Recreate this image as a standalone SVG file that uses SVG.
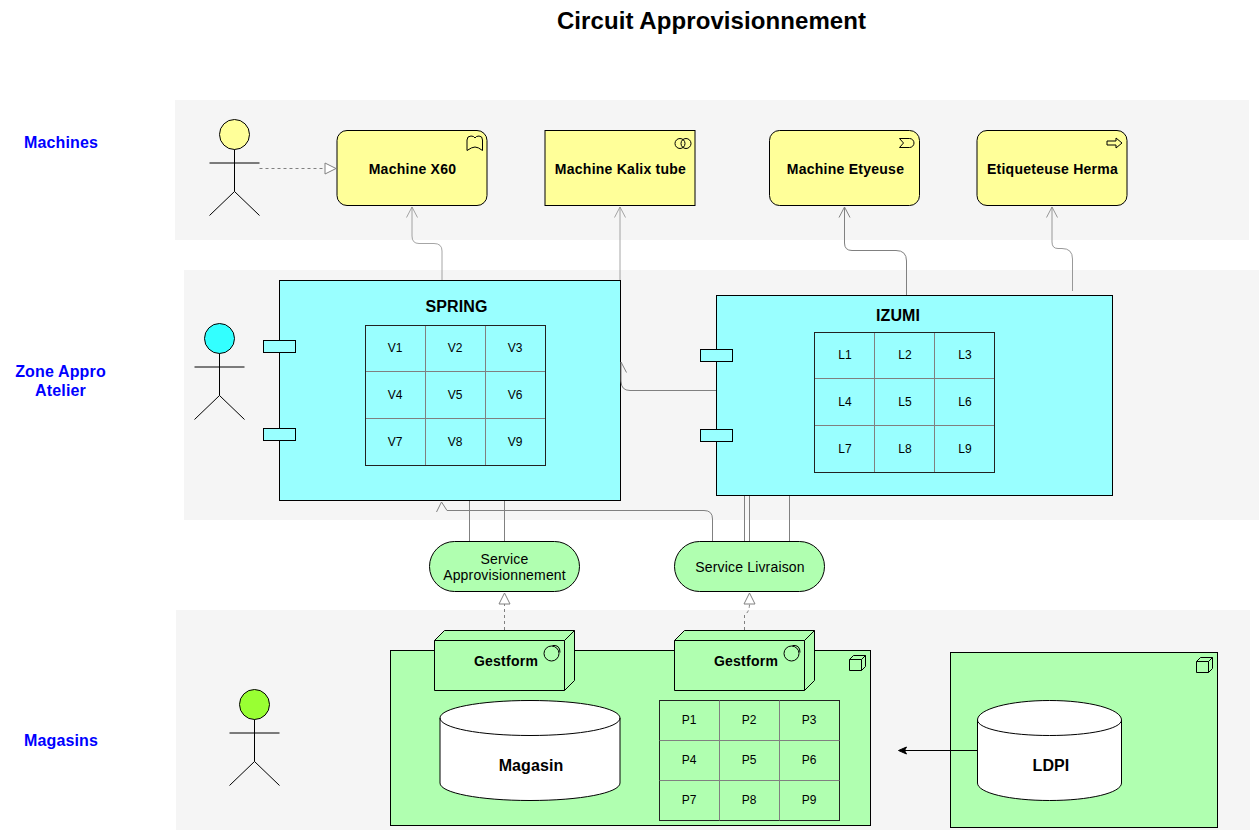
<svg xmlns="http://www.w3.org/2000/svg" width="1260" height="831" viewBox="0 0 1260 831">
<style>
text{font-family:"Liberation Sans",Arial,sans-serif;text-anchor:middle;fill:#000}
.band{fill:#f5f5f5;stroke:none}
.lane{font-size:16px;font-weight:bold;fill:#0000ff;letter-spacing:.15px}
.b{font-size:14px;font-weight:bold;letter-spacing:.25px}
.big{font-size:16px;font-weight:bold;letter-spacing:.1px}
.s{font-size:14px;letter-spacing:.17px}
.c{font-size:12px}
.o{stroke:#000;stroke-width:1;fill:none}
.y{fill:#ffff99;stroke:#000}
.t{fill:#99ffff;stroke:#000}
.g{fill:#b0ffb0;stroke:#000}
.w{fill:#fff;stroke:#000}
.grid{stroke:#808080;fill:none}
.frame{stroke:#222;fill:none}
.i{fill:none;stroke:#000}
#connectors path{fill:none;stroke:#808080;stroke-width:1}
#connectors .d{stroke-dasharray:3 3}
#connectors .h{fill:#fff;stroke:#808080}
</style>
<defs>
<g id="actor" class="o"><path d="M0 15V57M-25 28.500H25M-25 81L0 57L25 81"/></g>
<g id="cube" class="i"><path d="M-10.500 3.500H1.500V14.500H-10.500ZM-10.500 3.500L-6.500 -0.500H5.500V10.500L1.500 14.500M1.500 3.500L5.500 -0.500"/></g>
<g id="grid"><path class="grid" d="M60 0V140M120 0V140M0 46H180M0 93H180"/><rect class="frame" width="180" height="140"/></g>
</defs>
<g id="bands">
<rect class="band" x="175" y="100" width="1074" height="140"/>
<rect class="band" x="184" y="270" width="1075" height="250"/>
<rect class="band" x="176" y="610" width="1074" height="220"/>
</g>
<text x="711.500" y="29" style="font-size:24px;font-weight:bold;letter-spacing:.08px">Circuit Approvisionnement</text>
<text class="lane" x="61" y="148">Machines</text>
<text class="lane" x="60.500" y="377">Zone Appro</text>
<text class="lane" x="60.500" y="396">Atelier</text>
<text class="lane" x="61" y="746">Magasins</text>

<g id="actor-machines"><circle cx="234.500" cy="134.500" r="15" fill="#ffff99" stroke="#000"/><use href="#actor" x="234.500" y="134.500"/></g>
<g id="actor-zone"><circle cx="219.500" cy="338.500" r="15" fill="#33ffff" stroke="#000"/><use href="#actor" x="219.500" y="338.500"/></g>
<g id="actor-magasins"><circle cx="254.500" cy="704.500" r="15" fill="#99ff33" stroke="#000"/><use href="#actor" x="254.500" y="704.500" /></g>

<g id="machine-x60"><rect class="y" x="337" y="130.500" width="150" height="75" rx="10"/><path class="i" d="M467 140Q467 136 471 136Q474 136 475 138Q476 136 479 136Q482.500 136 482.500 140V150.500Q478 147 475 147Q472 147 467 150.500Z"/><text class="b" x="412.500" y="174">Machine X60</text></g>
<g id="machine-kalix"><rect class="y" x="545" y="130.500" width="150" height="75"/><circle class="i" cx="680" cy="143.500" r="5"/><circle class="i" cx="686" cy="143.500" r="5"/><text class="b" x="620.500" y="174">Machine Kalix tube</text></g>
<g id="machine-etyeuse"><rect class="y" x="769.500" y="130.500" width="150" height="75" rx="10"/><path class="i" d="M899.500 138.500H909.500A4.500 4.500 0 0 1 909.500 147.500H899.500L903.500 143Z"/><text class="b" x="845.500" y="174">Machine Etyeuse</text></g>
<g id="etiqueteuse-herma"><rect class="y" x="977" y="130.500" width="150" height="75" rx="10"/><path class="i" d="M1107 141H1116V138L1122 143L1116 148V145H1107Z"/><text class="b" x="1052.500" y="174">Etiqueteuse Herma</text></g>

<g id="spring">
<rect class="t" x="279.500" y="280.500" width="341" height="220"/>
<rect class="t" x="263.500" y="340.500" width="32" height="12"/>
<rect class="t" x="263.500" y="428.500" width="32" height="12"/>
<text class="big" x="456.500" y="312">SPRING</text>
<use href="#grid" x="365.500" y="325.500"/>
<g class="c"><text x="395" y="352">V1</text><text x="455" y="352">V2</text><text x="515" y="352">V3</text><text x="395" y="399">V4</text><text x="455" y="399">V5</text><text x="515" y="399">V6</text><text x="395" y="446">V7</text><text x="455" y="446">V8</text><text x="515" y="446">V9</text></g>
</g>
<g id="izumi">
<rect class="t" x="716.500" y="295.500" width="396" height="200"/>
<rect class="t" x="700.500" y="349.500" width="32" height="12"/>
<rect class="t" x="700.500" y="429.500" width="32" height="12"/>
<text class="big" x="898" y="321">IZUMI</text>
<use href="#grid" x="814.500" y="332.500"/>
<g class="c"><text x="845" y="359">L1</text><text x="905" y="359">L2</text><text x="965" y="359">L3</text><text x="845" y="406">L4</text><text x="905" y="406">L5</text><text x="965" y="406">L6</text><text x="845" y="453">L7</text><text x="905" y="453">L8</text><text x="965" y="453">L9</text></g>
</g>
<g id="service-appro"><rect class="g" x="429.500" y="541.500" width="150" height="50" rx="25"/><text class="s" x="504.500" y="564">Service</text><text class="s" x="504.500" y="580">Approvisionnement</text></g>
<g id="service-livraison"><rect class="g" x="674.500" y="541.500" width="150" height="50" rx="25"/><text class="s" x="750" y="572">Service Livraison</text></g>

<g id="noeud-magasin">
<rect class="g" x="390.500" y="650.500" width="480" height="175"/>
<use href="#cube" x="860" y="656"/>
<g id="cyl-magasin"><path class="w" d="M440 718C440 708 480 700.500 530 700.500S620 708 620 718V783C620 793 580 800.500 530 800.500S440 793 440 783Z"/><path class="i" d="M440 718C440 728 480 735.500 530 735.500S620 728 620 718"/><text class="big" x="531" y="771">Magasin</text></g>
<g id="table-p">
<rect x="659.500" y="700.500" width="180" height="120" fill="none" stroke="#222"/>
<path class="grid" d="M719.500 700.500V820.500M779.500 700.500V820.500M659.500 740.500H839.500M659.500 780.500H839.500"/>
<g class="c"><text x="689" y="724">P1</text><text x="749" y="724">P2</text><text x="809" y="724">P3</text><text x="689" y="764">P4</text><text x="749" y="764">P5</text><text x="809" y="764">P6</text><text x="689" y="804">P7</text><text x="749" y="804">P8</text><text x="809" y="804">P9</text></g>
</g>
</g>
<g id="gestform-1"><path class="g" d="M434.500 640.500L444.500 630.500H574.500V680.500L564.500 690.500H434.500Z"/><path class="i" d="M434.500 640.500H564.500V690.500M564.500 640.500L574.500 630.500"/><circle class="i" cx="551.500" cy="653.500" r="7.500"/><path class="i" d="M552.500 645.500Q560 644.500 560 652.500"/><text class="b" x="506" y="666">Gestform</text></g>
<g id="gestform-2"><path class="g" d="M674.500 640.500L684.500 630.500H814.500V680.500L804.500 690.500H674.500Z"/><path class="i" d="M674.500 640.500H804.500V690.500M804.500 640.500L814.500 630.500"/><circle class="i" cx="791.500" cy="653.500" r="7.500"/><path class="i" d="M792.500 645.500Q800 644.500 800 652.500"/><text class="b" x="746" y="666">Gestform</text></g>

<g id="noeud-ldpi">
<rect class="g" x="950.500" y="652.500" width="267" height="175"/>
<use href="#cube" x="1207" y="658"/>
<g id="cyl-ldpi"><path class="w" d="M977.500 720C977.500 709 1010 700.500 1049.500 700.500S1121.500 709 1121.500 720V783C1121.500 793 1089 800.500 1049.500 800.500S977.500 793 977.500 783Z"/><path class="i" d="M977.500 720C977.500 729 1010 735.500 1049.500 735.500S1121.500 729 1121.500 720"/><text class="big" x="1051" y="771">LDPI</text></g>
</g>

<g id="connectors">
<path class="d" d="M259.500 168.500H325"/><path class="h" d="M325 163L336 168.500L325 174Z"/>
<path opacity=".7" d="M442 280V251Q442 243.500 434 243.500H419Q412 243.500 412 236V207M406.500 217.500L412 207L417.500 217.500"/>
<path opacity=".7" d="M620 280V207M614.500 217.500L620 207L625.500 217.500"/>
<path d="M906.500 295V261Q906.500 250.500 896 250.500H852Q844.500 250.500 844.500 243V207M839 217.500L844.500 207L850 217.500"/>
<path d="M1072.500 291V259Q1072.500 248.500 1062 248.500H1058Q1052 248.500 1052 242V207M1046.500 217.500L1052 207L1057.500 217.500" opacity=".8"/>
<path d="M716 390.500H630Q621 390.500 621 381V362M621 362L626.500 372.500"/>
<path d="M469.500 501V541M504.500 501V541M744.500 496V541M749.500 496V541M789.500 496V541"/>
<path d="M712.500 541V519Q712.500 510.500 704 510.500H447L441.500 502L436.500 512"/>
<path class="d" d="M504.500 630V604"/><path class="h" d="M499 604L504.500 593L510 604Z"/>
<path class="d" d="M744.500 630V615Q749.500 612 749.500 604"/><path class="h" d="M744 604L749.500 593L755 604Z"/>
<path style="stroke:#000" d="M977 750.500H904"/><path style="fill:#000;stroke:#000" d="M898.500 750.500L906.500 747L904.500 750.500L906.500 754Z"/>
</g>
</svg>
